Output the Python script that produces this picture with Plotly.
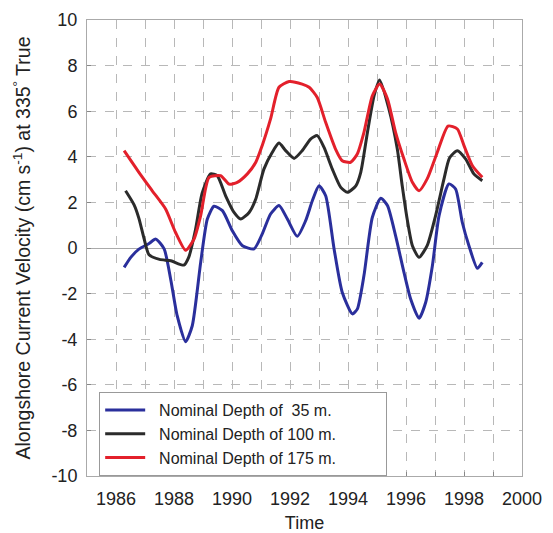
import plotly.graph_objects as go

# 35 m (blue)
t35 = [1986.28, 1986.51, 1986.79, 1987.14, 1987.37, 1987.66, 1987.89, 1988.11, 1988.40, 1988.63,
       1988.92, 1989.15, 1989.38, 1989.67, 1990.01, 1990.36, 1990.76, 1991.04, 1991.33, 1991.62,
       1991.91, 1992.25, 1992.54, 1992.77, 1993.00, 1993.23, 1993.52, 1993.80, 1994.15, 1994.32,
       1994.55, 1994.84, 1995.13, 1995.36, 1995.64, 1995.93, 1996.16, 1996.45, 1996.68, 1996.91,
       1997.14, 1997.48, 1997.71, 1997.94, 1998.17, 1998.46, 1998.63]
v35 = [-0.85, -0.41, -0.05, 0.2, 0.39, -0.04, -1.4, -2.97, -4.11, -3.41,
       -0.63, 1.27, 1.83, 1.64, 0.76, 0.1, -0.04, 0.61, 1.49, 1.86,
       1.27, 0.51, 1.2, 2.07, 2.73, 2.29, -0.04, -1.94, -2.89, -2.68,
       -1.21, 1.35, 2.18, 1.86, 0.54, -1.07, -2.24, -3.08, -2.38, -0.78,
       1.42, 2.81, 2.59, 1.13, 0.1, -0.89, -0.63]

# 100 m (black)
t100 = [1986.33, 1986.62, 1986.79, 1986.97, 1987.14, 1987.50, 1987.89, 1988.34, 1988.51, 1988.74,
        1988.97, 1989.26, 1989.49, 1989.78, 1990.07, 1990.30, 1990.59, 1990.82, 1991.10, 1991.39,
        1991.62, 1991.85, 1992.14, 1992.42, 1992.71, 1992.94, 1993.17, 1993.46, 1993.75, 1993.98,
        1994.27, 1994.44, 1994.67, 1994.90, 1995.09, 1995.41, 1995.70, 1995.87, 1996.04, 1996.22,
        1996.45, 1996.73, 1997.02, 1997.31, 1997.50, 1997.77, 1998.06, 1998.34, 1998.63]
v100 = [2.51, 1.9, 1.3, 0.4, -0.3, -0.5, -0.56, -0.75, -0.4, 0.8,
        2.4, 3.25, 3.17, 2.29, 1.56, 1.27, 1.56, 2.15, 3.46, 4.2,
        4.6, 4.27, 3.93, 4.27, 4.78, 4.93, 4.42, 3.46, 2.66, 2.44,
        2.73, 3.32, 5.07, 6.68, 7.37, 6.1, 4.34, 2.73, 1.27, 0.1,
        -0.41, 0.1, 1.42, 3.03, 3.95, 4.27, 3.9, 3.25, 2.95]

# 175 m (red)
t175 = [1986.28, 1986.79, 1987.25, 1987.71, 1988.05, 1988.40, 1988.69, 1988.92, 1989.21, 1989.61,
        1989.90, 1990.18, 1990.53, 1990.82, 1991.04, 1991.33, 1991.62, 1991.97, 1992.42, 1992.66,
        1992.94, 1993.23, 1993.57, 1993.80, 1994.09, 1994.32, 1994.55, 1994.84, 1995.09, 1995.36,
        1995.64, 1995.93, 1996.22, 1996.45, 1996.73, 1997.08, 1997.45, 1997.77, 1998.00, 1998.29,
        1998.63]
v175 = [4.27, 3.32, 2.51, 1.71, 0.69, -0.1, 0.39, 1.42, 3.1, 3.17,
        2.8, 2.88, 3.25, 3.76, 4.49, 5.66, 7.05, 7.3, 7.19, 7.05,
        6.6, 5.51, 4.34, 3.83, 3.76, 4.12, 5.07, 6.68, 7.19, 6.54,
        5.07, 3.9, 2.88, 2.51, 3.03, 4.2, 5.35, 5.22, 4.49, 3.61,
        3.1]

names = ["Nominal Depth of  35 m.", "Nominal Depth of 100 m.", "Nominal Depth of 175 m."]
colors = ["#2a2f9c", "#2b2b2b", "#e3202b"]

x_ticks = [1986, 1988, 1990, 1992, 1994, 1996, 1998, 2000]
y_ticks = [-10, -8, -6, -4, -2, 0, 2, 4, 6, 8, 10]
y_ticktext = ["-10", "-8", "-6", "-4", "-2", "0", "2", "4", "6", "8", "10"]

pad = "\u00a0\u00a0"
tail = "\u00a0" * 10
fig = go.Figure()
for t, v, n, c in zip([t35, t100, t175], [v35, v100, v175], names, colors):
    fig.add_trace(go.Scatter(x=t, y=v, mode="lines", name=pad + n + tail,
                             line=dict(color=c, width=3, shape="spline", smoothing=0.6)))

grid = dict(gridcolor="#b8b8b8", griddash="dash", gridwidth=1)
fig.update_layout(
    width=553, height=533,
    margin=dict(l=87, r=31, t=20, b=57),
    paper_bgcolor="white", plot_bgcolor="white",
    font=dict(family="Liberation Sans, Arial", color="#222", size=17),
    showlegend=True,
    legend=dict(x=0.028, y=0.184, xanchor="left", yanchor="top",
                bgcolor="white", bordercolor="#999", borderwidth=1,
                font=dict(size=16), tracegroupgap=0, itemwidth=40),
    xaxis=dict(range=[1985, 2000], tickmode="array", tickvals=x_ticks,
               ticks="inside", ticklen=4, tickcolor="#888", ticklabelstandoff=6,
               showline=True, linecolor="#aaa", mirror=True, automargin=False,
               showgrid=True, **grid,
               minor=dict(dtick=1, showgrid=True, gridcolor="#b8b8b8", griddash="dash",
                          ticks="inside", ticklen=4, tickcolor="#888"),
               title=dict(text="Time", font=dict(size=18)),
               tickfont=dict(size=18), zeroline=False),
    yaxis=dict(range=[-10, 10], tickmode="array", tickvals=y_ticks, ticktext=y_ticktext,
               ticks="inside", ticklen=4, tickcolor="#888",
               ticklabelstandoff=5, automargin=False,
               showline=True, linecolor="#aaa", mirror=True,
               showgrid=True, **grid,
               zeroline=True, zerolinecolor="#aaa", zerolinewidth=1,
               title=dict(text="Alongshore Current Velocity (cm s<sup>-1</sup>) at 335<sup>°</sup> True",
                          font=dict(size=19.5)),
               tickfont=dict(size=18)),
)

fig.write_html("out.html")
